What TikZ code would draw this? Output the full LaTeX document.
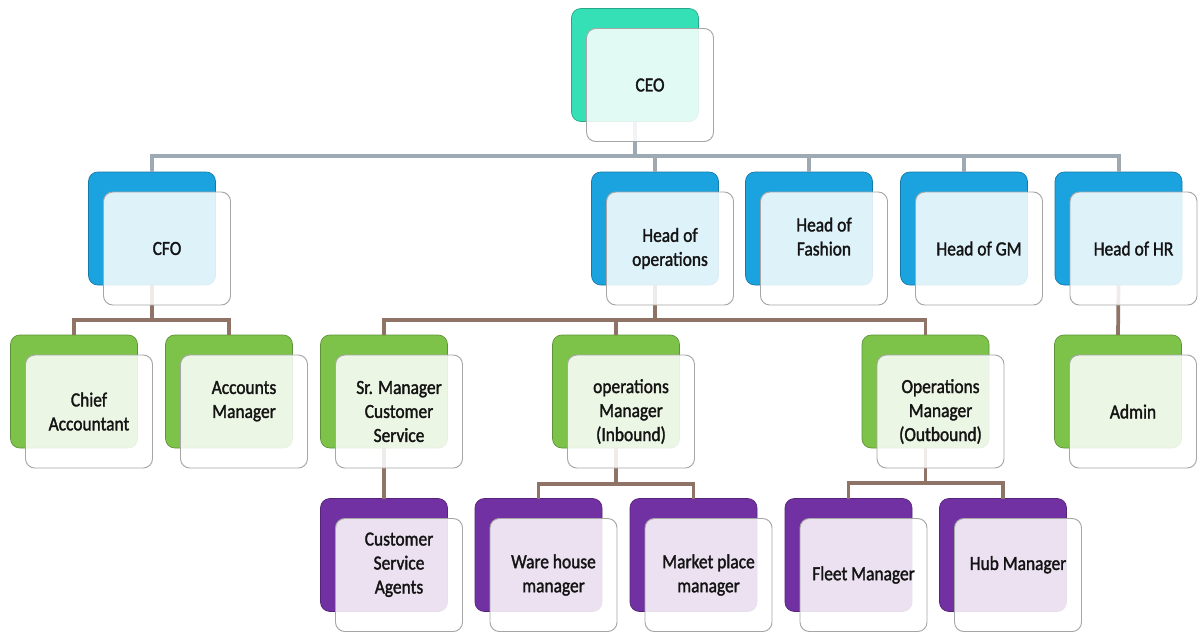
\documentclass[tikz,border=0pt]{standalone}
\usepackage{fontspec}
\setmainfont{Carlito}[FakeStretch=0.87, FakeBold=1.6]
\usepackage{tikz}
\usetikzlibrary{positioning, calc}
\definecolor{ceoteal}{HTML}{36E0B6}
\definecolor{headblue}{HTML}{1BA3E0}
\definecolor{mgrgreen}{HTML}{7DC34A}
\definecolor{staffpurple}{HTML}{7231A2}
\definecolor{barsteel}{HTML}{9DAAB3}
\definecolor{linkbrown}{HTML}{8E7366}

\tikzset{
  back/.style={rounded corners=7pt, minimum width=95.25pt, minimum height=84.75pt,
    inner sep=0pt, outer sep=0pt, fill=#1, draw=#1!75!black, line width=0.5pt},
  front/.style={rounded corners=7pt, minimum width=95.25pt, minimum height=84.75pt,
    inner sep=2pt, outer sep=0pt, fill=white, fill opacity=0.86, text opacity=1,
    draw=black!35, line width=0.7pt, align=center, xshift=11.25pt, yshift=-15pt,
    font=\fontsize{15}{18}\selectfont, text=black!92},
  upper/.style={draw=barsteel, line width=3pt},
  lower/.style={draw=linkbrown, line width=2.8pt}
}

\begin{document}
\begin{tikzpicture}[x=0.75pt, y=-0.75pt]
  \fill[white] (0,0) rectangle (1201,632);
  \useasboundingbox (0,0) rectangle (1201,632);

  % back plates, one per post
  \node[back=ceoteal] (ceo) at (635,65) {};
  \node[back=headblue] (cfo) at (152,228.5) {};
  \node[back=headblue] (hops) at (655,228.5) {};
  \node[back=headblue] (fashion) at (809,228.5) {};
  \node[back=headblue] (gm) at (964,228.5) {};
  \node[back=headblue] (hr) at (1118.5,228.5) {};
  \node[back=mgrgreen] (chief) at (74,391.5) {};
  \node[back=mgrgreen] (accounts) at (229,391.5) {};
  \node[back=mgrgreen] (srcs) at (384,391.5) {};
  \node[back=mgrgreen] (opsin) at (616,391.5) {};
  \node[back=mgrgreen] (opsout) at (925.5,391.5) {};
  \node[back=mgrgreen] (admin) at (1118,391.5) {};
  \node[back=staffpurple] (agents) at (384,555) {};
  \node[back=staffpurple] (warehouse) at (538.5,555) {};
  \node[back=staffpurple] (market) at (693.5,555) {};
  \node[back=staffpurple] (fleet) at (848.5,555) {};
  \node[back=staffpurple] (hub) at (1003,555) {};

  % reporting lines
  \draw[upper] (ceo.south) -- ++(0,34.5) -| (cfo.north);
  \draw[upper] (ceo.south) -- ++(0,34.5) -| (hops.north);
  \draw[upper] (ceo.south) -- ++(0,34.5) -| (fashion.north);
  \draw[upper] (ceo.south) -- ++(0,34.5) -| (gm.north);
  \draw[upper] (ceo.south) -- ++(0,34.5) -| (hr.north);

  \draw[lower] (cfo.south) -- ++(0,35) -| (chief.north);
  \draw[lower] (cfo.south) -- ++(0,35) -| (accounts.north);
  \draw[lower] (hops.south) -- ++(0,35) -| (srcs.north);
  \draw[lower] (hops.south) -- ++(0,35) -| (opsin.north);
  \draw[lower] (hops.south) -- ++(0,35) -| (opsout.north);
  \draw[lower] (hr.south) -- (admin.north);
  \draw[lower] (srcs.south) -- (agents.north);
  \draw[lower] (opsin.south) -- ++(0,36) -| (warehouse.north);
  \draw[lower] (opsin.south) -- ++(0,36) -| (market.north);
  \draw[lower] (opsout.south) -- ++(0,35) -| (fleet.north);
  \draw[lower] (opsout.south) -- ++(0,35) -| (hub.north);

  % front cards with the titles
  \node[front] (ceo-t) at (ceo) {CEO};
  \node[front] (cfo-t) at (cfo) {CFO};
  \node[front] (hops-t) at (hops) {Head of\\operations};
  \node[front] (fashion-t) at (fashion) {Head of\\Fashion\\~};
  \node[front] (gm-t) at (gm) {Head of GM};
  \node[front] (hr-t) at (hr) {Head of HR};
  \node[front] (chief-t) at (chief) {Chief\\Accountant};
  \node[front] (accounts-t) at (accounts) {Accounts\\Manager\\~};
  \node[front] (srcs-t) at (srcs) {Sr. Manager\\Customer\\Service};
  \node[front] (opsin-t) at (opsin) {operations\\Manager\\(Inbound)};
  \node[front] (opsout-t) at (opsout) {Operations\\Manager\\(Outbound)};
  \node[front] (admin-t) at (admin) {Admin};
  \node[front] (agents-t) at (agents) {Customer\\Service\\Agents\\~};
  \node[front] (warehouse-t) at (warehouse) {Ware house\\manager};
  \node[front] (market-t) at (market) {Market place\\manager};
  \node[front] (fleet-t) at (fleet) {Fleet Manager};
  \node[front] (hub-t) at (hub) {Hub Manager\\~};
\end{tikzpicture}
\end{document}
